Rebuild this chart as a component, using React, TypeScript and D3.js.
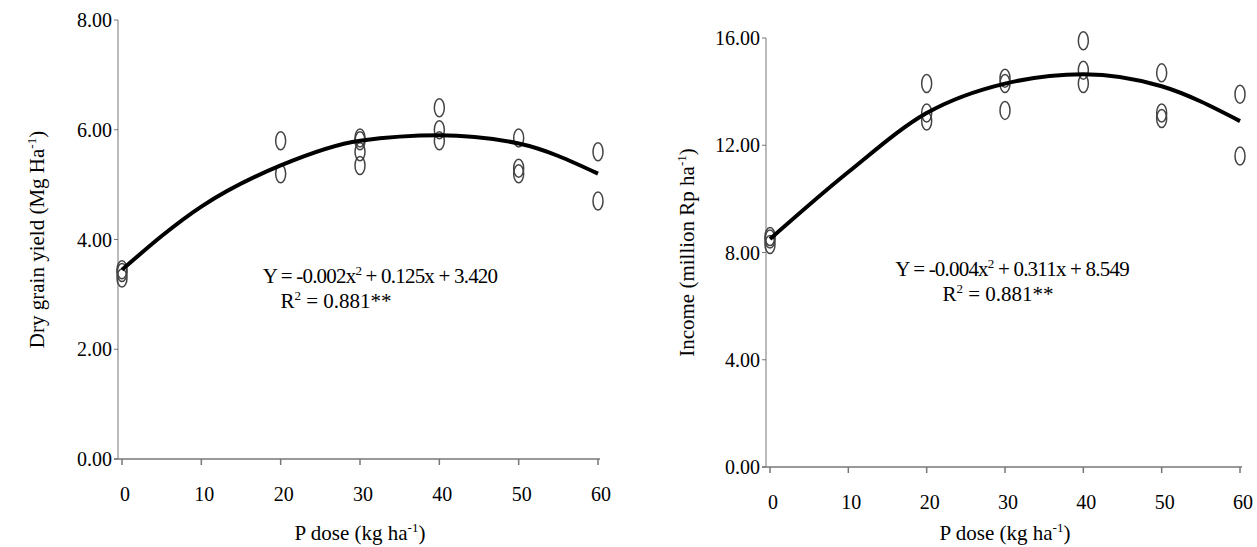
import * as d3 from "d3";

const doses = [0, 10, 20, 30, 40, 50, 60];
const yieldTicks = [0, 2, 4, 6, 8];
const incomeTicks = [0, 4, 8, 12, 16];

// observed points [dose, value]
const yieldPoints: [number, number][] = [
  [0, 3.3], [0, 3.4], [0, 3.45],
  [20, 5.2], [20, 5.8],
  [30, 5.35], [30, 5.6], [30, 5.8], [30, 5.85],
  [40, 5.8], [40, 6.0], [40, 6.4],
  [50, 5.2], [50, 5.3], [50, 5.85],
  [60, 4.7], [60, 5.6],
];
const yieldCurve = [3.45, 4.6, 5.35, 5.8, 5.9, 5.75, 5.2];

const incomePoints: [number, number][] = [
  [0, 8.3], [0, 8.5], [0, 8.6],
  [20, 12.9], [20, 13.2], [20, 14.3],
  [30, 13.3], [30, 14.3], [30, 14.5],
  [40, 14.3], [40, 14.8], [40, 15.9],
  [50, 13.0], [50, 13.2], [50, 14.7],
  [60, 11.6], [60, 13.9],
];
const incomeCurve = [8.5, 11.0, 13.2, 14.3, 14.65, 14.2, 12.9];

const font = "Liberation Serif, DejaVu Serif, serif";

type PanelProps = {
  x0: number; x1: number; y0: number; y1: number; axisX: number;
  yMax: number; ticks: number[]; points: [number, number][]; curve: number[];
  yTitle: [string, string]; yTitleX: number; eq: [string, string, string];
  eqX: number; eqY: number; rX: number; rY: number;
};

function Panel(p: PanelProps) {
  const x = d3.scaleLinear().domain([0, 60]).range([p.x0, p.x1]);
  const y = d3.scaleLinear().domain([0, p.yMax]).range([p.y0, p.y1]);
  const line = d3.line<number>()
    .x((_, i) => x(doses[i]))
    .y((d) => y(d))
    .curve(d3.curveMonotoneX);
  const grey = "#777";
  return (
    <g style={{ fontFamily: font }}>
      <line x1={p.axisX} x2={p.axisX} y1={p.y1} y2={p.y0} stroke={grey} />
      <line x1={p.axisX - 4} x2={x(60) + 2} y1={p.y0} y2={p.y0} stroke={grey} strokeWidth={1.5} />
      {p.ticks.map((t) => (
        <g key={t}>
          <line x1={p.axisX - 4} x2={p.axisX} y1={y(t)} y2={y(t)} stroke={grey} />
          <text x={p.axisX - 6} y={y(t) + 7} textAnchor="end" fontSize={20}>
            {t.toFixed(2)}
          </text>
        </g>
      ))}
      {doses.map((d) => (
        <g key={d}>
          <line x1={x(d)} x2={x(d)} y1={p.y0} y2={p.y0 + 6} stroke={grey} strokeWidth={1.5} />
          <text x={x(d) + 3} y={p.y0 + 42} textAnchor="middle" fontSize={20}>{d}</text>
        </g>
      ))}
      {p.points.map(([d, v], i) => (
        <ellipse key={i} cx={x(d)} cy={y(v)} rx={5} ry={9} fill="none" stroke="#444" strokeWidth={1.5} />
      ))}
      <path d={line(p.curve) ?? ""} fill="none" stroke="#000" strokeWidth={4} />
      <text transform={`translate(${p.yTitleX},${(p.y0 + p.y1) / 2}) rotate(-90)`} textAnchor="middle" fontSize={21}>
        {p.yTitle[0]}<tspan fontSize={13} dy={-8}>-1</tspan><tspan dy={8}>{p.yTitle[1]}</tspan>
      </text>
      <text x={(p.x0 + p.x1) / 2} y={540} textAnchor="middle" fontSize={21}>
        P dose (kg ha<tspan fontSize={13} dy={-8}>-1</tspan><tspan dy={8}>)</tspan>
      </text>
      <text x={p.eqX} y={p.eqY} textAnchor="middle" fontSize={21} letterSpacing={-0.8}>
        {p.eq[0]}<tspan fontSize={13} dy={-8}>2</tspan><tspan dy={8}>{p.eq[1]}</tspan>
      </text>
      <text x={p.rX} y={p.rY} textAnchor="middle" fontSize={21}>
        R<tspan fontSize={13} dy={-8}>2</tspan><tspan dy={8}>{p.eq[2]}</tspan>
      </text>
    </g>
  );
}

export default function App() {
  return (
    <svg width={1257} height={547} style={{ position: "absolute", left: 0, top: 0, background: "#fff" }}>
      <Panel x0={122} x1={598} y0={459} y1={20} axisX={118} yMax={8} ticks={yieldTicks}
        points={yieldPoints} curve={yieldCurve} yTitle={["Dry grain yield  (Mg Ha", ")"]} yTitleX={44}
        eq={["Y = -0.002x", " + 0.125x + 3.420", " = 0.881**"]} eqX={380} eqY={283} rX={336} rY={308} />
      <Panel x0={770} x1={1240} y0={467} y1={38} axisX={766} yMax={16} ticks={incomeTicks}
        points={incomePoints} curve={incomeCurve} yTitle={["Income  (million Rp ha", ")"]} yTitleX={694}
        eq={["Y = -0.004x", " + 0.311x + 8.549", " = 0.881**"]} eqX={1012} eqY={276} rX={998} rY={301} />
    </svg>
  );
}
